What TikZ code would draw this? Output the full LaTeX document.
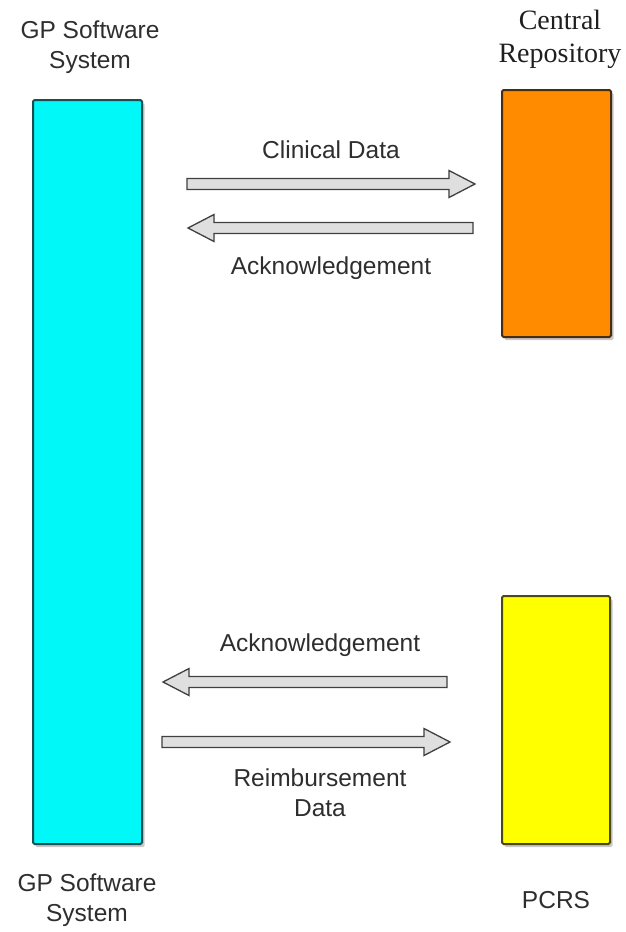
\documentclass[tikz,border=0pt]{standalone}
\usepackage{fontspec}
\setmainfont{Liberation Sans}
\newfontfamily\seriffont{Liberation Serif}
\usetikzlibrary{calc,shadows}
\definecolor{cyanfill}{HTML}{00F8F8}
\definecolor{cyanline}{HTML}{1A4E50}
\definecolor{orangefill}{HTML}{FF8C00}
\definecolor{orangeline}{HTML}{4A2C0E}
\definecolor{yellowfill}{HTML}{FFFF00}
\definecolor{yellowline}{HTML}{4A4A16}
\definecolor{labelgray}{HTML}{2E2E2E}
\tikzset{
  sysbox/.style={draw, line width=2pt, rounded corners=1.5pt,
    drop shadow={shadow xshift=2.5pt, shadow yshift=-3pt, opacity=0.35, fill=black!60}},
  lbl/.style={font=\fontsize{24.5}{30}\selectfont, text=labelgray, align=center, inner sep=0pt},
  serlbl/.style={font=\seriffont\fontsize{28}{33}\selectfont, text=black!88, align=center, inner sep=0pt},
  blockarrow/.style={fill=gray!25, draw=gray!50!black, line width=1.3pt, line join=miter,
    to path={let \p1=(\tikztostart), \p2=(\tikztotarget), \n1={sign(\x2-\x1)} in
      (\x1,\y1+5.5pt) -- (\x2-\n1*26pt,\y1+5.5pt) -- (\x2-\n1*26pt,\y1+13.5pt) -- (\x2,\y1)
      -- (\x2-\n1*26pt,\y1-13.5pt) -- (\x2-\n1*26pt,\y1-5.5pt) -- (\x1,\y1-5.5pt) -- cycle}}
}
\begin{document}
\begin{tikzpicture}[x=1pt,y=-1pt]
\useasboundingbox (0,0) rectangle (625,932);
\fill[white] (0,0) rectangle (625,932);

% boxes
\node[sysbox, fill=cyanfill, draw=cyanline, minimum width=109pt, minimum height=744pt, anchor=north west] (gp) at (32,99) {};
\node[sysbox, fill=orangefill, draw=orangeline, minimum width=109pt, minimum height=247pt, anchor=north west] (cr) at (501,89) {};
\node[sysbox, fill=yellowfill, draw=yellowline, minimum width=108pt, minimum height=248pt, anchor=north west] (pcrs) at (501,595) {};

% titles
\node[lbl] (gptop) at (90,47) {GP Software\\System};
\node[serlbl] (crtop) at (560,39) {Central\\Repository};
\node[lbl] (gpbot) at (87,900) {GP Software\\System};
\node[lbl] (pcrslbl) at (556,900) {PCRS};

% arrow end points
\coordinate (a1s) at (187,184);
\coordinate (a1e) at (475,184);
\coordinate (a2s) at (473,228);
\coordinate (a2e) at (188,228);
\coordinate (a3s) at (447,682);
\coordinate (a3e) at (163,682);
\coordinate (a4s) at (162,742);
\coordinate (a4e) at (450,742);

\draw[blockarrow] (a1s) to (a1e);
\draw[blockarrow] (a2s) to (a2e);
\draw[blockarrow] (a3s) to (a3e);
\draw[blockarrow] (a4s) to (a4e);

% arrow labels
\node[lbl] (l1) at (331,150) {Clinical Data};
\node[lbl] (l2) at (331,268) {Acknowledgement};
\node[lbl] (l3) at (320,645) {Acknowledgement};
\node[lbl] (l4) at (320,793) {Reimbursement\\Data};
\end{tikzpicture}
\end{document}
